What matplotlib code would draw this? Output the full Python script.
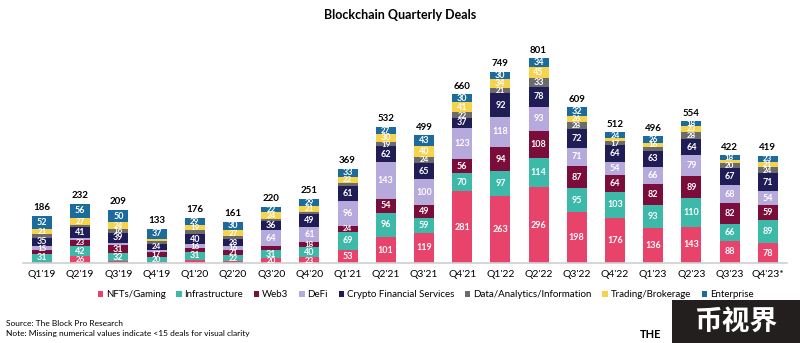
import matplotlib
matplotlib.use("Agg")
import matplotlib.pyplot as plt
from matplotlib.patches import Rectangle
import numpy as np

quarters = ["Q1'19", "Q2'19", "Q3'19", "Q4'19", "Q1'20", "Q2'20", "Q3'20", "Q4'20",
            "Q1'21", "Q2'21", "Q3'21", "Q4'21", "Q1'22", "Q2'22", "Q3'22", "Q4'22",
            "Q1'23", "Q2'23", "Q3'23", "Q4'23*"]

nfts = [5, 26, 7, 5, 13, 8, 20, 23, 53, 101, 119, 281, 263, 296, 198, 176, 136, 143, 88, 78]
infra = [31, 42, 32, 20, 31, 22, 31, 40, 69, 96, 59, 70, 97, 114, 95, 103, 93, 110, 66, 89]
web3 = [14, 23, 31, 17, 14, 21, 14, 18, 24, 54, 49, 56, 94, 108, 87, 64, 82, 89, 82, 59]
defi = [15, 8, 10, 10, 16, 16, 64, 61, 96, 143, 100, 123, 118, 93, 71, 54, 66, 79, 68, 54]
cfs = [35, 41, 39, 24, 40, 28, 36, 49, 61, 62, 65, 37, 92, 78, 72, 64, 63, 64, 67, 71]
data = [13, 9, 16, 10, 14, 9, 9, 10, 11, 19, 24, 22, 21, 33, 28, 17, 14, 28, 20, 24]
trading = [21, 27, 24, 10, 19, 27, 24, 21, 22, 30, 40, 41, 34, 45, 26, 10, 16, 23, 13, 21]
enterprise = [52, 56, 50, 37, 29, 30, 22, 29, 33, 27, 43, 30, 30, 34, 32, 24, 26, 18, 18, 23]
totals = [186, 232, 209, 133, 176, 161, 220, 251, 369, 532, 499, 660, 749, 801, 609, 512,
          496, 554, 422, 419]

series_names = ["NFTs/Gaming", "Infrastructure", "Web3", "DeFi", "Crypto Financial Services",
                "Data/Analytics/Information", "Trading/Brokerage", "Enterprise"]
series = [nfts, infra, web3, defi, cfs, data, trading, enterprise]
colors = ["#e8436a", "#3db9a9", "#7b0d3b", "#b5aadb", "#1f1c56", "#6b6b6b", "#f6d24d", "#1b6b9d"]

plt.rcParams['font.family'] = ['Lato', 'DejaVu Sans']

fig = plt.figure(figsize=(8, 3.43), dpi=100)
ax = fig.add_axes([0.0286, 0.233, 0.955, 0.671])

x = np.arange(len(quarters))
bottom = np.zeros(len(quarters))
for name, vals, col in zip(series_names, series, colors):
    vals = np.array(vals, dtype=float)
    ax.bar(x, vals, bottom=bottom, width=0.52, color=col, label=name, edgecolor='none')
    for i, v in enumerate(vals):
        if v >= 15:
            fs = 6.5 if v >= 30 else 5.8
            ax.text(x[i], bottom[i] + v / 2, f"{int(v)}", ha='center', va='center',
                    color='white', fontsize=fs, fontweight='bold')
    bottom += vals

for i, t in enumerate(totals):
    ax.text(x[i], bottom[i] + 14, str(t), ha='center', va='bottom', fontsize=7,
            fontweight='bold', color='black')

ax.set_xlim(-0.5, len(quarters) - 0.5)
ax.set_ylim(0, 900)
ax.set_xticks(x)
ax.set_xticklabels(quarters, fontsize=7.5)
ax.tick_params(axis='x', length=0, pad=5)
ax.set_yticks([])
for s in ['top', 'right', 'left']:
    ax.spines[s].set_visible(False)
ax.spines['bottom'].set_color('#d0d0d0')
ax.spines['bottom'].set_linewidth(1.2)

fig.text(0.5, 0.955, "Blockchain Quarterly Deals", ha='center', va='center',
         fontsize=9, fontweight='bold')

leg = fig.legend(loc='center', bbox_to_anchor=(0.532, 0.14), ncol=8, frameon=False,
                 fontsize=7, handlelength=0.55, handleheight=0.55, handletextpad=0.3,
                 columnspacing=1.1)

fig.text(0.008, 0.058, "Source: The Block Pro Research", fontsize=6, ha='left', va='center')
fig.text(0.008, 0.028, "Note: Missing numerical values indicate <15 deals for visual clarity",
         fontsize=6, ha='left', va='center')
fig.text(0.8, 0.025, "THE", fontsize=8, fontweight='bold', ha='left', va='center')

fig.patches.append(Rectangle((0.84, 0.0), 0.16, 0.125, transform=fig.transFigure,
                             facecolor='#231f1f', edgecolor='none', zorder=5))
fig.text(0.92, 0.062, "币视界", ha='center', va='center', fontsize=20, fontweight='bold',
         color='white', family=['Noto Sans CJK SC', 'DejaVu Sans'], zorder=6)

fig.savefig("out.png", dpi=100)
